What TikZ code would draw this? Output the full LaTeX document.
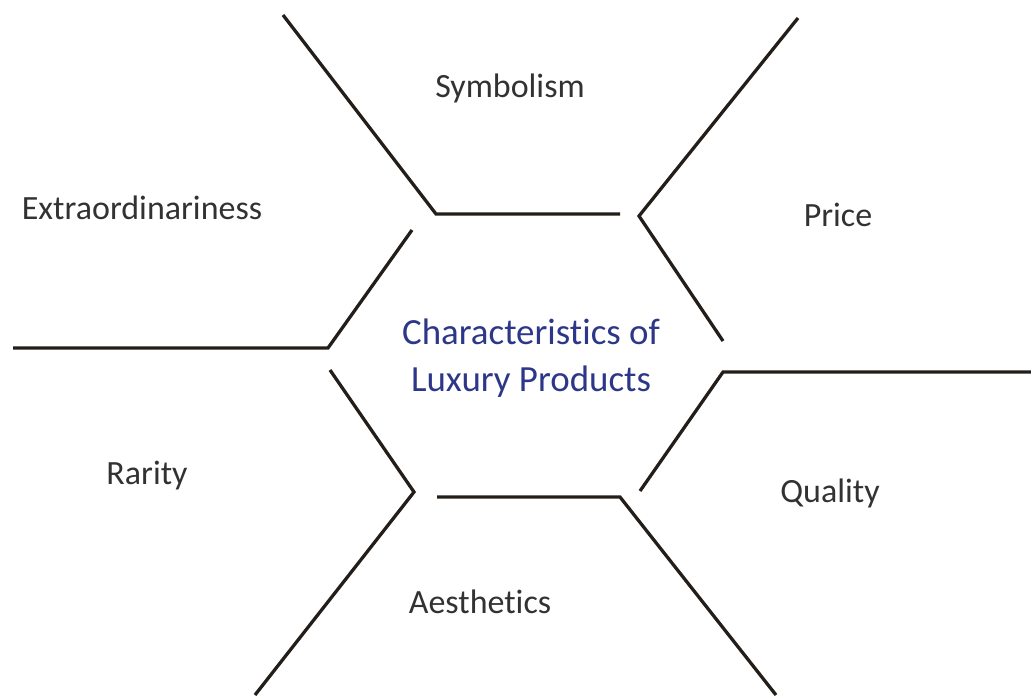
\documentclass[tikz,border=0pt]{standalone}
\usepackage{fontspec}
\setmainfont{Carlito}[Ligatures=NoCommon]
\definecolor{inkline}{RGB}{35,30,25}
\definecolor{labelgrey}{RGB}{50,50,50}
\definecolor{titleblue}{RGB}{45,55,135}
\begin{document}
\begin{tikzpicture}
  [x=0.03cm,y=-0.03cm,every node/.style={font=\fontsize{29}{35}\selectfont,text=labelgrey}]
\useasboundingbox (0,0) rectangle (1031,695);
  % corners of the six brackets
  \coordinate (s1) at (283,15);  \coordinate (s2) at (436,214); \coordinate (s3) at (620,214);
  \coordinate (p1) at (798,18);  \coordinate (p2) at (639,216); \coordinate (p3) at (723,341);
  \coordinate (e1) at (13,348);  \coordinate (e2) at (328,348); \coordinate (e3) at (412,230);
  \coordinate (q1) at (1031,372); \coordinate (q2) at (723,372); \coordinate (q3) at (640,491);
  \coordinate (r1) at (330,370); \coordinate (r2) at (414,492); \coordinate (r3) at (255,695);
  \coordinate (a1) at (437,497); \coordinate (a2) at (620,497); \coordinate (a3) at (776,695);

  \foreach \a/\b/\c in {s1/s2/s3, p1/p2/p3, e1/e2/e3, q1/q2/q3, r1/r2/r3, a1/a2/a3}
    \draw[inkline, line width=2.8pt] (\a) -- (\b) -- (\c);

  \node (symbolism) at (510,88) {Symbolism};
  \node (extra) at (142,208) {Extraordinariness};
  \node (price) at (838,215) {Price};
  \node (rarity) at (147,476) {Rarity};
  \node (quality) at (830,493) {Quality};
  \node (aesthetics) at (480,602) {Aesthetics};

  \node[text=titleblue, align=center, font=\fontsize{31.5}{40}\selectfont] (luxury) at (531,358)
    {Characteristics of\\Luxury Products};
\end{tikzpicture}
\end{document}
